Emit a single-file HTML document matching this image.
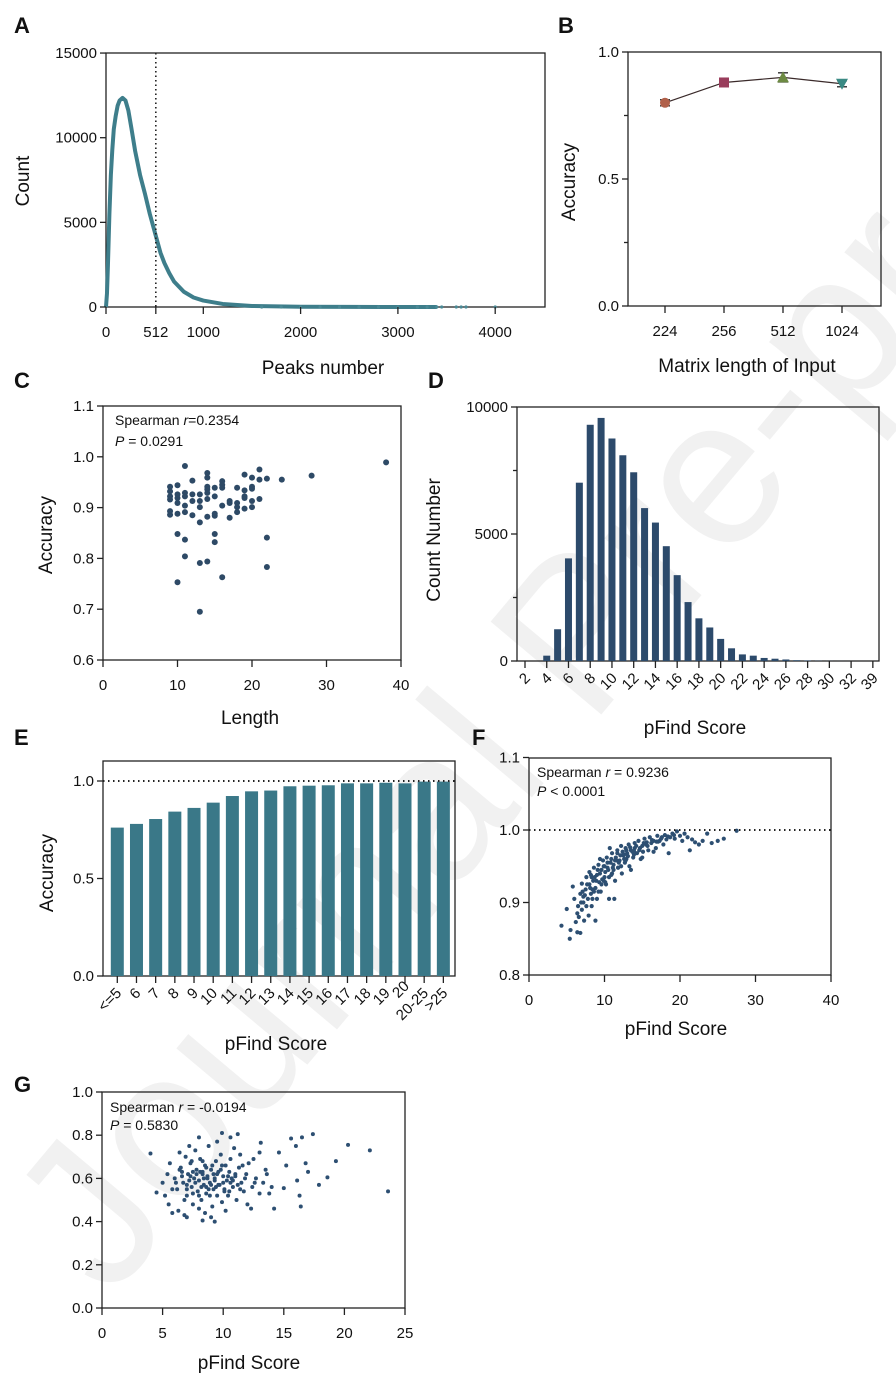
<!DOCTYPE html>
<html><head><meta charset="utf-8"><style>
html,body{margin:0;padding:0;background:#fff;}
svg{display:block;font-family:"Liberation Sans",Arial,sans-serif;}
</style></head><body>
<svg id="fig" width="896" height="1384" viewBox="0 0 896 1384" xmlns="http://www.w3.org/2000/svg">
<text x="110" y="1300" transform="rotate(-50 110 1300)" font-size="210" fill="#f1f1f1">Journal Pre-proof</text>
</svg>
<script>
// ---------- data ----------
const peaksX = [0,10,20,35,50,65,80,100,120,140,170,200,230,260,300,350,400,450,512,560,600,650,700,800,900,1000,1200,1500,2000,2500,3000,3400];
const countY = [0,800,2500,5500,7800,9300,10500,11300,11900,12200,12350,12200,11600,10600,9200,7800,6700,5500,4200,3200,2600,2000,1500,900,560,380,180,60,15,5,2,0];
const tailX = [1600,1800,2000,2200,2400,2600,2800,3000,3200,3300,3400,3450,3600,3650,3700,4000];

const bCats = ['224','256','512','1024'];
const bVals = [0.80,0.88,0.90,0.875];
const bErr = [0.012,0.008,0.018,0.012];
const bColors = ['#b0604a','#993d5c','#6d8a43','#3a8a84'];

const cLen = [11,9,10,9,9,9,10,10,10,11,11,11,12,12,12,13,13,13,14,14,14,14,14,14,15,15,16,16,16,16,17,17,18,18,18,19,19,19,19,20,20,20,20,20,21,21,21,22,24,28,38,9,9,10,11,12,13,14,15,15,17,18,19,10,11,15,15,22,11,13,14,16,22,10,13];
const cAcc = [.982,.941,.944,.932,.922,.916,.926,.919,.909,.929,.922,.904,.953,.926,.913,.926,.913,.901,.968,.959,.941,.936,.929,.917,.939,.922,.952,.945,.939,.904,.913,.909,.939,.909,.901,.965,.934,.922,.919,.959,.941,.937,.913,.901,.975,.955,.917,.957,.955,.963,.989,.893,.886,.888,.891,.885,.871,.882,.888,.884,.880,.891,.898,.848,.837,.848,.832,.841,.804,.791,.794,.763,.783,.753,.695];

const dCats = ['2','3','4','5','6','7','8','9','10','11','12','13','14','15','16','17','18','19','20','21','22','23','24','25','26','27','28','29','30','31','32','33','39'];
const dVals = [0,0,210,1250,4040,7020,9300,9570,8760,8100,7430,6020,5450,4520,3380,2320,1680,1320,870,500,260,210,120,90,60,30,20,10,5,3,2,1,1];
const dTicks = [10000,5000,0];

const eCats = ['<=5','6','7','8','9','10','11','12','13','14','15','16','17','18','19','20','20-25','>25'];
const eVals = [.761,.780,.805,.843,.862,.889,.923,.947,.951,.973,.976,.978,.988,.988,.991,.988,.997,.997];

const fX = [4.3,5.4,5.0,5.5,5.8,6.0,6.2,6.4,6.5,6.6,6.8,7.0,7.0,7.2,7.3,7.5,7.6,7.8,8.0,8.0,8.2,8.3,8.5,8.6,8.8,9.0,9.0,9.2,9.3,9.5,9.6,9.8,10.0,10.0,10.2,10.3,10.5,10.6,10.8,11.0,11.0,11.2,11.4,11.5,11.7,11.8,12.0,12.2,12.3,12.5,12.7,12.8,13.0,13.2,13.3,13.5,13.8,14.0,14.0,14.3,14.5,14.7,15.0,15.0,15.3,15.5,15.8,16.0,16.2,16.5,16.8,17.0,17.3,17.5,17.8,18.0,18.2,18.5,18.7,19.0,19.3,19.6,20.0,20.3,20.6,21.0,21.3,21.6,22.0,22.5,23.0,23.6,24.2,25.0,25.8,27.5,7.9,8.8,11.3,6.8,9.4,10.7,12.9,14.8,16.5,13.5,8.4,9.7,10.4,11.6,12.6,13.9,15.6,17.1,7.2,8.7,
  7.4,7.7,8.1,8.3,8.6,8.9,9.1,9.4,9.6,9.9,10.1,10.4,10.6,10.9,11.1,11.4,11.7,11.9,12.1,12.4,12.6,12.9,13.1,13.4,13.7,14.2,14.6,15.2,15.7,16.3,16.9,17.6,18.4,19.2,6.9,7.6,8.4,9.2,10.1,10.9,11.8,12.8,13.9,15.1,6.4,7.1,8.2,9.9,11.2,12.2];
const fY = [.868,.850,.891,.862,.922,.905,.873,.859,.895,.880,.912,.926,.890,.900,.875,.918,.935,.905,.942,.925,.912,.895,.930,.948,.920,.938,.905,.952,.928,.915,.945,.958,.935,.950,.925,.962,.945,.905,.955,.968,.940,.952,.930,.962,.972,.948,.958,.978,.940,.965,.955,.975,.968,.980,.950,.972,.962,.982,.975,.968,.985,.975,.978,.962,.988,.980,.972,.990,.982,.985,.975,.992,.985,.988,.980,.993,.987,.968,.990,.995,.988,.998,.992,.985,.995,.990,.972,.987,.983,.980,.985,.995,.982,.985,.988,.999,.882,.875,.905,.858,.960,.975,.960,.960,.970,.945,.918,.932,.948,.958,.966,.971,.983,.984,.908,.935,
  .910,.925,.920,.935,.915,.930,.945,.940,.925,.950,.942,.955,.935,.960,.948,.958,.968,.955,.965,.970,.960,.972,.964,.976,.970,.978,.972,.982,.978,.986,.984,.990,.991,.993,.900,.895,.905,.915,.928,.938,.948,.958,.966,.970,.885,.915,.938,.930,.945,.950];

const gX = [6.0,6.2,6.5,6.7,6.9,7.0,7.1,7.3,7.4,7.5,7.6,7.7,7.8,7.9,8.0,8.1,8.2,8.3,8.4,8.5,8.6,8.7,8.8,8.9,9.0,9.1,9.2,9.3,9.4,9.5,9.6,9.7,9.8,9.9,10.0,10.1,10.2,10.3,10.4,10.5,10.6,10.8,11.0,11.1,11.3,11.5,11.7,11.9,12.1,12.4,12.7,13.0,13.3,13.6,14.0,5.2,5.4,5.6,5.8,5.5,6.3,6.4,6.8,7.2,8.0,8.5,9.0,9.5,10.2,10.9,11.4,12.0,12.5,13.0,11.6,7.7,8.1,8.6,9.3,8.9,7.3,6.6,10.6,9.8,8.3,7.0,9.1,8.4,7.5,4.0,23.6,22.1,20.3,19.3,18.6,17.9,17.4,17.0,16.8,16.5,16.3,16.4,16.0,15.6,16.1,15.2,15.0,14.6,14.2,13.1,11.2,9.9,10.6,8.0,9.3,8.3,7.0,5.8,4.5,5.0,12.3,13.8,13.5,
  6.1,6.6,7.2,7.8,8.2,8.7,9.2,9.6,10.0,10.4,10.8,11.2,11.8,12.6,6.4,7.0,7.5,8.0,8.6,9.0,9.5,10.1,10.7,11.4,6.8,7.4,8.3,8.8,9.4,9.9,10.5,11.0];
const gY = [.60,.55,.65,.58,.70,.52,.62,.67,.56,.48,.60,.73,.64,.54,.59,.69,.50,.62,.57,.66,.53,.61,.75,.58,.64,.47,.55,.60,.68,.52,.63,.57,.71,.49,.61,.55,.66,.59,.52,.63,.69,.56,.61,.50,.65,.58,.54,.62,.67,.56,.60,.53,.58,.62,.56,.52,.62,.67,.55,.48,.45,.72,.43,.75,.46,.44,.42,.77,.45,.74,.71,.48,.69,.72,.66,.58,.63,.56,.59,.52,.61,.63,.58,.64,.68,.57,.66,.60,.53,.715,.54,.73,.755,.68,.605,.57,.805,.63,.67,.79,.52,.47,.75,.785,.59,.66,.555,.72,.46,.765,.805,.81,.79,.79,.40,.405,.42,.44,.535,.58,.46,.53,.64,
  .58,.61,.59,.62,.56,.60,.62,.57,.58,.61,.59,.57,.60,.58,.64,.55,.63,.52,.65,.57,.62,.54,.60,.55,.50,.68,.63,.55,.56,.66,.54,.62];

// ---------- helpers ----------
const NS = 'http://www.w3.org/2000/svg';
const svg = document.getElementById('fig');
function mk(tag, attrs, name, parent) {
  const e = document.createElementNS(NS, tag);
  for (const k in attrs) e.setAttribute(k, attrs[k]);
  
  
  (parent || svg).appendChild(e);
  return e;
}
function txt(x, y, s, size, anchor, name, extra) {
  const t = mk('text', Object.assign({x: x, y: y, 'font-size': size, 'text-anchor': anchor || 'start', fill: '#111'}, extra || {}), name);
  t.textContent = s;
  return t;
}
function ln(x1, y1, x2, y2, name, extra) {
  return mk('line', Object.assign({x1: x1, y1: y1, x2: x2, y2: y2, stroke: '#222', 'stroke-width': 1.3}, extra || {}), name);
}
function box(l, t, r, b, name) {
  mk('rect', {x: l, y: t, width: r - l, height: b - t, fill: 'none', stroke: '#222', 'stroke-width': 1.3}, name);
}
function yTicks(l, vals, sy, labels, name, minor) {
  vals.forEach((v, i) => {
    ln(l - 6, sy(v), l, sy(v), name + '-tick');
    if (labels[i] !== '') txt(l - 9, sy(v) + 5, labels[i], 15, 'end', name + '-label');
  });
  (minor || []).forEach(v => ln(l - 4, sy(v), l, sy(v), name + '-minor-tick'));
}
function xTicks(b, vals, sx, labels, name, dy) {
  vals.forEach((v, i) => {
    ln(sx(v), b, sx(v), b + 7, name + '-tick');
    txt(sx(v), b + (dy || 30), labels[i], 15, 'middle', name + '-label');
  });
}
function rotTitle(x, y, s, name) {
  txt(x, y, s, 19, 'middle', name, {transform: 'rotate(-90 ' + x + ' ' + y + ')'});
}
function letter(x, y, s) { txt(x, y, s, 22, 'start', 'panel-label-' + s.toLowerCase(), {'font-weight': 'bold'}); }

// ---------- Panel A ----------
letter(14, 33, 'A');
const axA = v => 106 + v * 0.0973, ayA = v => 307 - v * 0.01693;
box(106, 53, 545, 307, 'panel-a-plot-area');
mk('polyline', {points: peaksX.map((x, i) => axA(x) + ',' + ayA(countY[i])).join(' '), fill: 'none', stroke: '#3e7e8b', 'stroke-width': 4, 'stroke-linejoin': 'round'}, 'peaks-count-curve');
tailX.forEach(x => {
  const c = mk('circle', {cx: axA(x), cy: ayA(0), r: 1.6, fill: '#4a8995'}, 'peaks-tail-point');
});
ln(axA(512), 53, axA(512), 307, 'threshold-512-line', {'stroke-dasharray': '1.5 3', 'stroke-width': 1.6});
yTicks(106, [0, 5000, 10000, 15000], ayA, ['0', '5000', '10000', '15000'], 'panel-a-y');
xTicks(307, [0, 512, 1000, 2000, 3000, 4000], axA, ['0', '512', '1000', '2000', '3000', '4000'], 'panel-a-x');
rotTitle(29, 181, 'Count', 'panel-a-y-title');
txt(323, 374, 'Peaks number', 19, 'middle', 'panel-a-x-title');

// ---------- Panel B ----------
letter(558, 33, 'B');
const bx = [665, 724, 783, 842];
const ayB = v => 306 - v * 254;
box(628, 52, 881, 306, 'panel-b-plot-area');
mk('polyline', {points: bVals.map((v, i) => bx[i] + ',' + ayB(v)).join(' '), fill: 'none', stroke: '#3a2a2a', 'stroke-width': 1.2}, 'accuracy-line');
bVals.forEach((v, i) => {
  const x = bx[i], y = ayB(v), e = ayB(v + bErr[i]), e2 = ayB(v - bErr[i]);
  ln(x, e, x, e2, 'error-bar-' + bCats[i]);
  ln(x - 5, e, x + 5, e, 'error-cap-' + bCats[i]);
  ln(x - 5, e2, x + 5, e2, 'error-cap-' + bCats[i]);
  if (i === 0) mk('circle', {cx: x, cy: y, r: 5, fill: bColors[i]}, 'marker-224');
  if (i === 1) mk('rect', {x: x - 5, y: y - 5, width: 10, height: 10, fill: bColors[i]}, 'marker-256');
  if (i === 2) mk('polygon', {points: `${x},${y - 6} ${x - 6},${y + 5} ${x + 6},${y + 5}`, fill: bColors[i]}, 'marker-512');
  if (i === 3) mk('polygon', {points: `${x},${y + 6} ${x - 6},${y - 5} ${x + 6},${y - 5}`, fill: bColors[i]}, 'marker-1024');
});
yTicks(628, [0, 0.5, 1.0], ayB, ['0.0', '0.5', '1.0'], 'panel-b-y', [0.25, 0.75]);
bCats.forEach((c, i) => { ln(bx[i], 306, bx[i], 313, 'panel-b-x-tick'); txt(bx[i], 336, c, 15, 'middle', 'panel-b-x-label'); });
rotTitle(575, 182, 'Accuracy', 'panel-b-y-title');
txt(747, 372, 'Matrix length of Input', 19, 'middle', 'panel-b-x-title');

// ---------- Panel C ----------
letter(14, 388, 'C');
const axC = v => 103 + v * 7.45, ayC = v => 660 - (v - 0.6) * 508;
box(103, 406, 401, 660, 'panel-c-plot-area');
cLen.forEach((x, i) => {
  const p = mk('circle', {cx: axC(x), cy: ayC(cAcc[i]), r: 3, fill: '#2e4a66'}, 'length-accuracy-point');
});
yTicks(103, [0.6, 0.7, 0.8, 0.9, 1.0, 1.1], ayC, ['0.6', '0.7', '0.8', '0.9', '1.0', '1.1'], 'panel-c-y');
xTicks(660, [0, 10, 20, 30, 40], axC, ['0', '10', '20', '30', '40'], 'panel-c-x');
txt(115, 425, '', 14, 'start', 'panel-c-stat-r').innerHTML = 'Spearman <tspan font-style="italic">r</tspan>=0.2354';
txt(115, 446, '', 14, 'start', 'panel-c-stat-p').innerHTML = '<tspan font-style="italic">P</tspan> = 0.0291';
rotTitle(52, 535, 'Accuracy', 'panel-c-y-title');
txt(250, 724, 'Length', 19, 'middle', 'panel-c-x-title');

// ---------- Panel D ----------
letter(428, 388, 'D');
const axD = i => 525 + i * 10.87, ayD = v => 661 - v * 0.0254;
box(517, 407, 879, 661, 'panel-d-plot-area');
dVals.forEach((v, i) => {
  const r = mk('rect', {x: axD(i) - 3.5, y: ayD(v), width: 7, height: 661 - ayD(v), fill: '#2c4a6b'}, 'score-count-bar');
});
yTicks(517, dTicks, ayD, ['10000', '5000', '0'], 'panel-d-y', [2500, 7500]);
dCats.forEach((c, i) => {
  if (i % 2 !== 0) return;
  ln(axD(i), 661, axD(i), 668, 'panel-d-x-tick');
  txt(axD(i) + 6, 679, c, 15, 'end', 'panel-d-x-label', {transform: `rotate(-45 ${axD(i) + 6} 679)`});
});
rotTitle(440, 540, 'Count Number', 'panel-d-y-title');
txt(695, 734, 'pFind Score', 19, 'middle', 'panel-d-x-title');

// ---------- Panel E ----------
letter(14, 745, 'E');
const axE = i => 117.3 + i * 19.18, ayE = v => 976 - v * 195;
box(103, 761, 455, 976, 'panel-e-plot-area');
eVals.forEach((v, i) => {
  const r = mk('rect', {x: axE(i) - 6.5, y: ayE(v), width: 13, height: 976 - ayE(v), fill: '#3a7888'}, 'accuracy-bar');
});
ln(103, ayE(1), 455, ayE(1), 'accuracy-1-reference-line', {'stroke-dasharray': '1.5 3.5', 'stroke-width': 2});
yTicks(103, [0, 0.5, 1.0], ayE, ['0.0', '0.5', '1.0'], 'panel-e-y');
eCats.forEach((c, i) => {
  ln(axE(i), 976, axE(i), 983, 'panel-e-x-tick');
  const yy = (c === '20') ? 987 : 994;
  txt(axE(i) + 5, yy, c, 15, 'end', 'panel-e-x-label', {transform: `rotate(-45 ${axE(i) + 5} ${yy})`});
});
rotTitle(53, 873, 'Accuracy', 'panel-e-y-title');
txt(276, 1050, 'pFind Score', 19, 'middle', 'panel-e-x-title');

// ---------- Panel F ----------
letter(472, 745, 'F');
const axF = v => 529 + v * 7.55, ayF = v => 975 - (v - 0.8) * 725;
box(529, 758, 831, 975, 'panel-f-plot-area');
fX.forEach((x, i) => {
  const p = mk('circle', {cx: axF(x), cy: ayF(fY[i]), r: 2.1, fill: '#2d4f72'}, 'score-accuracy-point');
});
ln(529, ayF(1), 831, ayF(1), 'accuracy-1-reference-line-f', {'stroke-dasharray': '1.5 3.5', 'stroke-width': 2});
yTicks(529, [0.8, 0.9, 1.0, 1.1], ayF, ['0.8', '0.9', '1.0', '1.1'], 'panel-f-y');
xTicks(975, [0, 10, 20, 30, 40], axF, ['0', '10', '20', '30', '40'], 'panel-f-x');
txt(537, 777, '', 14, 'start', 'panel-f-stat-r').innerHTML = 'Spearman <tspan font-style="italic">r</tspan> = 0.9236';
txt(537, 796, '', 14, 'start', 'panel-f-stat-p').innerHTML = '<tspan font-style="italic">P</tspan> &lt; 0.0001';
txt(676, 1035, 'pFind Score', 19, 'middle', 'panel-f-x-title');

// ---------- Panel G ----------
letter(14, 1092, 'G');
const axG = v => 102 + v * 12.12, ayG = v => 1308 - v * 216;
box(102, 1092, 405, 1308, 'panel-g-plot-area');
gX.forEach((x, i) => {
  const p = mk('circle', {cx: axG(x), cy: ayG(gY[i]), r: 2, fill: '#2d4f72'}, 'score-value-point');
});
yTicks(102, [0, 0.2, 0.4, 0.6, 0.8, 1.0], ayG, ['0.0', '0.2', '0.4', '0.6', '0.8', '1.0'], 'panel-g-y');
xTicks(1308, [0, 5, 10, 15, 20, 25], axG, ['0', '5', '10', '15', '20', '25'], 'panel-g-x');
txt(110, 1112, '', 14, 'start', 'panel-g-stat-r').innerHTML = 'Spearman <tspan font-style="italic">r</tspan> = -0.0194';
txt(110, 1130, '', 14, 'start', 'panel-g-stat-p').innerHTML = '<tspan font-style="italic">P</tspan> = 0.5830';
txt(249, 1369, 'pFind Score', 19, 'middle', 'panel-g-x-title');
</script>
</body></html>
